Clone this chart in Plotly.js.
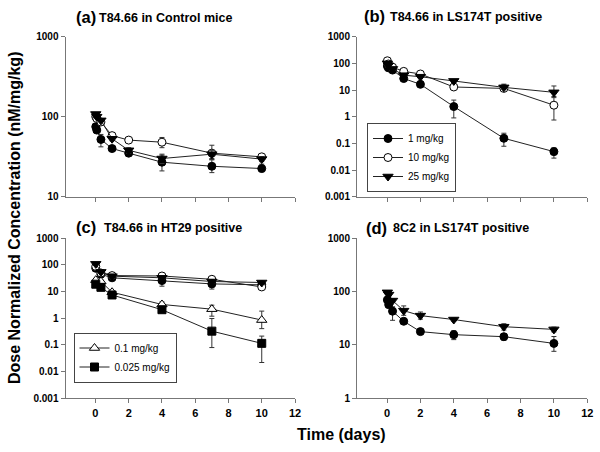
<!DOCTYPE html>
<html>
<head>
<meta charset="utf-8">
<script src="https://cdn.plot.ly/plotly-3.0.1.min.js"></script>
<style>html,body{margin:0;padding:0;background:#fff}#chart{width:600px;height:452px}</style>
</head>
<body>
<div id="chart"></div>
<script>
// ---- Data ----
// Panel (a) T84.66 in Control mice
const tA = [0.02, 0.08, 0.33, 1, 2, 4, 7, 10];
const a_1mg = [75, 68, 52, 40, 35, 27, 24, 22.5];
const a_1mg_up = [3, 3, 8, 3, 2, 6, 5, 3];
const a_1mg_dn = [3, 3, 10, 3, 2, 6, 4, 2];
const a_10mg = [100, 95, 86, 58, 51, 48, 35, 31.5];
const a_10mg_up = [4, 4, 4, 3, 2, 7, 9, 2];
const a_10mg_dn = [4, 4, 4, 3, 2, 7, 6, 2];
const a_25mg = [108, 100, 90, 53, 38, 30, 34, 29.5];
const a_25mg_up = [4, 4, 4, 3, 3, 4, 4, 2];
const a_25mg_dn = [4, 4, 4, 3, 3, 4, 4, 2];

// Panel (b) T84.66 in LS174T positive
const tB = [0.02, 0.08, 0.33, 1, 2, 4, 7, 10];
const b_1mg = [80, 68, 56, 27, 16.4, 2.4, 0.155, 0.049];
const b_1mg_up = [8, 6, 5, 3, 2, 1.8, 0.085, 0.02];
const b_1mg_dn = [8, 6, 5, 3, 2, 1.5, 0.077, 0.021];
const b_10mg = [125, 95, 72, 50, 40, 13, 11.5, 2.7];
const b_10mg_up = [10, 8, 6, 5, 4, 2, 2, 3];
const b_10mg_dn = [10, 8, 6, 5, 4, 2, 2, 1.95];
const b_25mg = [100, 85, 62, 36, 31.6, 22, 12.6, 8.2];
const b_25mg_up = [8, 6, 5, 4, 3, 2, 4, 6];
const b_25mg_dn = [8, 6, 5, 4, 3, 2, 2, 3];

// Panel (c) T84.66 in HT29 positive
const tC = [0.02, 0.33, 1, 4, 7, 10];
const c_1mg = [75, 45, 33, 26, 19.5, 18];
const c_1mg_up = [6, 5, 4, 8, 6, 3];
const c_1mg_dn = [6, 5, 4, 10, 7, 3];
const c_10mg = [88, 50, 40, 38.6, 29, 15];
const c_10mg_up = [8, 5, 4, 4, 4, 3];
const c_10mg_dn = [8, 5, 4, 4, 4, 3];
const c_25mg = [110, 55, 38, 33, 24, 22];
const c_25mg_up = [8, 5, 4, 4, 4, 3];
const c_25mg_dn = [8, 5, 4, 4, 4, 3];
const c_01mg = [27, 24, 9.5, 3.3, 2.2, 0.86];
const c_01mg_up = [3, 3, 1, 0.8, 0.9, 1.0];
const c_01mg_dn = [3, 3, 1, 0.5, 1.0, 0.45];
const c_0025mg = [19, 14.5, 7.5, 2.1, 0.33, 0.115];
const c_0025mg_up = [2, 1.5, 0.8, 0.3, 0.65, 0.1];
const c_0025mg_dn = [2, 1.5, 0.8, 0.3, 0.25, 0.093];

// Panel (d) 8C2 in LS174T positive
const tD = [0.02, 0.1, 0.33, 1, 2, 4, 7, 10];
const d_25mg = [97, 88, 68, 44, 35.5, 30, 22, 19.6];
const d_25mg_up = [6, 6, 5, 10, 6, 2, 3, 2];
const d_25mg_dn = [6, 6, 5, 8, 5, 2, 3, 2];
const d_1mg = [70, 57, 43, 27.8, 17.8, 15.6, 14.3, 10.7];
const d_1mg_up = [6, 5, 9, 2, 2, 3, 2, 3.7];
const d_1mg_dn = [6, 5, 14, 2, 2, 3, 2, 3.1];

// Tick labels
const xTicks = [0, 2, 4, 6, 8, 10, 12];
const yTicksA = [10, 100, 1000];
const yTicksBC = [0.001, 0.01, 0.1, 1, 10, 100, 1000];
const yTicksD = [1, 10, 100, 1000];
const yTickText = v => v.map(String);

// Legend names and panel titles
const names = {m1: '1 mg/kg', m10: '10 mg/kg', m25: '25 mg/kg', m01: '0.1 mg/kg', m0025: '0.025 mg/kg'};
const panelTags = ['(a)', '(b)', '(c)', '(d)'];
const panelTitles = ['T84.66 in Control mice', 'T84.66 in LS174T positive', 'T84.66 in HT29 positive', '8C2 in LS174T positive'];

// ---- Styles ----
const FONT = 'Arial, "Liberation Sans", Helvetica, sans-serif';
const LINE = {color: '#222', width: 1};
const MK = {
  filledCircle: {symbol: 'circle', size: 8, color: '#000', line: {color: '#000', width: 1}},
  openCircle: {symbol: 'circle', size: 8, color: '#fff', line: {color: '#000', width: 1}},
  downTri: {symbol: 'triangle-down', size: 9, color: '#000', line: {color: '#000', width: 1}},
  openUpTri: {symbol: 'triangle-up', size: 9, color: '#fff', line: {color: '#000', width: 1}},
  square: {symbol: 'square', size: 8, color: '#000', line: {color: '#000', width: 1}}
};

function tr(x, y, up, dn, marker, xa, ya, name, legend) {
  return {
    type: 'scatter', mode: 'lines+markers', x: x, y: y,
    xaxis: xa, yaxis: ya, name: name,
    showlegend: !!legend, legend: legend || 'legend',
    line: LINE, marker: marker,
    error_y: {type: 'data', symmetric: false, array: up, arrayminus: dn,
              color: '#333', thickness: 1, width: 2.5}
  };
}

const data = [
  tr(tA, a_1mg, a_1mg_up, a_1mg_dn, MK.filledCircle, 'x', 'y', names.m1),
  tr(tA, a_10mg, a_10mg_up, a_10mg_dn, MK.openCircle, 'x', 'y', names.m10),
  tr(tA, a_25mg, a_25mg_up, a_25mg_dn, MK.downTri, 'x', 'y', names.m25),

  tr(tB, b_1mg, b_1mg_up, b_1mg_dn, MK.filledCircle, 'x2', 'y2', names.m1, 'legend'),
  tr(tB, b_10mg, b_10mg_up, b_10mg_dn, MK.openCircle, 'x2', 'y2', names.m10, 'legend'),
  tr(tB, b_25mg, b_25mg_up, b_25mg_dn, MK.downTri, 'x2', 'y2', names.m25, 'legend'),

  tr(tC, c_1mg, c_1mg_up, c_1mg_dn, MK.filledCircle, 'x3', 'y3', names.m1),
  tr(tC, c_10mg, c_10mg_up, c_10mg_dn, MK.openCircle, 'x3', 'y3', names.m10),
  tr(tC, c_25mg, c_25mg_up, c_25mg_dn, MK.downTri, 'x3', 'y3', names.m25),
  tr(tC, c_01mg, c_01mg_up, c_01mg_dn, MK.openUpTri, 'x3', 'y3', names.m01, 'legend2'),
  tr(tC, c_0025mg, c_0025mg_up, c_0025mg_dn, MK.square, 'x3', 'y3', names.m0025, 'legend2'),

  tr(tD, d_25mg, d_25mg_up, d_25mg_dn, MK.downTri, 'x4', 'y4', names.m25),
  tr(tD, d_1mg, d_1mg_up, d_1mg_dn, MK.filledCircle, 'x4', 'y4', names.m1)
];

function xax(domain, anchor, labels) {
  return {
    domain: domain, anchor: anchor, range: [-1.8, 12],
    tickmode: 'array', tickvals: xTicks, ticktext: xTicks.map(String),
    showticklabels: labels, ticks: 'outside', ticklen: 4, tickcolor: '#777', tickwidth: 1,
    showline: true, linecolor: '#777', linewidth: 1, showgrid: false, zeroline: false,
    tickfont: {family: FONT, size: 11, color: '#000', weight: 'bold'}
  };
}
function yax(domain, anchor, range, ticks) {
  return {
    domain: domain, anchor: anchor, type: 'log', range: range,
    tickmode: 'array', tickvals: ticks, ticktext: yTickText(ticks),
    ticks: 'outside', ticklen: 4, tickcolor: '#777', tickwidth: 1,
    showline: true, linecolor: '#777', linewidth: 1, showgrid: false, zeroline: false,
    tickfont: {family: FONT, size: 10, color: '#000', weight: 'bold'}
  };
}

const colL = [65.5 / 600, 295 / 600];
const colR = [357 / 600, 587.3 / 600];
const rowT = [1 - 196.7 / 452, 1 - 36.7 / 452];
const rowB = [1 - 398.3 / 452, 1 - 238.3 / 452];

function ann(x, y, text, size, extra) {
  return Object.assign({
    xref: 'paper', yref: 'paper', x: x / 600, y: 1 - y / 452,
    xanchor: 'left', yanchor: 'middle', showarrow: false, borderpad: 0,
    text: '<b>' + text + '</b>',
    font: {family: FONT, size: size, color: '#000'}
  }, extra || {});
}

const legendStyle = {
  bgcolor: '#fff', bordercolor: '#444', borderwidth: 1,
  font: {family: FONT, size: 10, color: '#000'},
  xanchor: 'left', yanchor: 'middle', itemwidth: 30, tracegroupgap: 0
};

const layout = {
  width: 600, height: 452,
  margin: {l: 0, r: 0, t: 0, b: 0},
  paper_bgcolor: '#fff', plot_bgcolor: '#fff',
  font: {family: FONT, color: '#000'},
  showlegend: true,
  xaxis: xax(colL, 'y', false),
  yaxis: yax(rowT, 'x', [1, 3], yTicksA),
  xaxis2: xax(colR, 'y2', false),
  yaxis2: yax(rowT, 'x2', [-3, 3], yTicksBC),
  xaxis3: xax(colL, 'y3', true),
  yaxis3: yax(rowB, 'x3', [-3, 3], yTicksBC),
  xaxis4: xax(colR, 'y4', true),
  yaxis4: yax(rowB, 'x4', [0, 3], yTicksD),
  legend: Object.assign({x: 367 / 600, y: 1 - 157.5 / 452}, legendStyle),
  legend2: Object.assign({x: 73.5 / 600, y: 1 - 357.5 / 452}, legendStyle),
  annotations: [
    ann(75, 17, panelTags[0], 16.5),
    ann(98, 17.5, panelTitles[0], 12.5),
    ann(363, 16.5, panelTags[1], 16.5),
    ann(389, 17, panelTitles[1], 12.5),
    ann(75, 226.5, panelTags[2], 16.5),
    ann(103, 227.5, panelTitles[2], 12.5),
    ann(365, 228, panelTags[3], 16.5),
    ann(392, 227.5, panelTitles[3], 12.5),
    ann(342, 434, 'Time (days)', 16, {xanchor: 'center'}),
    ann(14, 218, 'Dose Normalized Concentration (nM/mg/kg)', 16, {xanchor: 'center', textangle: -90})
  ]
};

Plotly.newPlot('chart', data, layout, {displayModeBar: false, staticPlot: true});
</script>
</body>
</html>
